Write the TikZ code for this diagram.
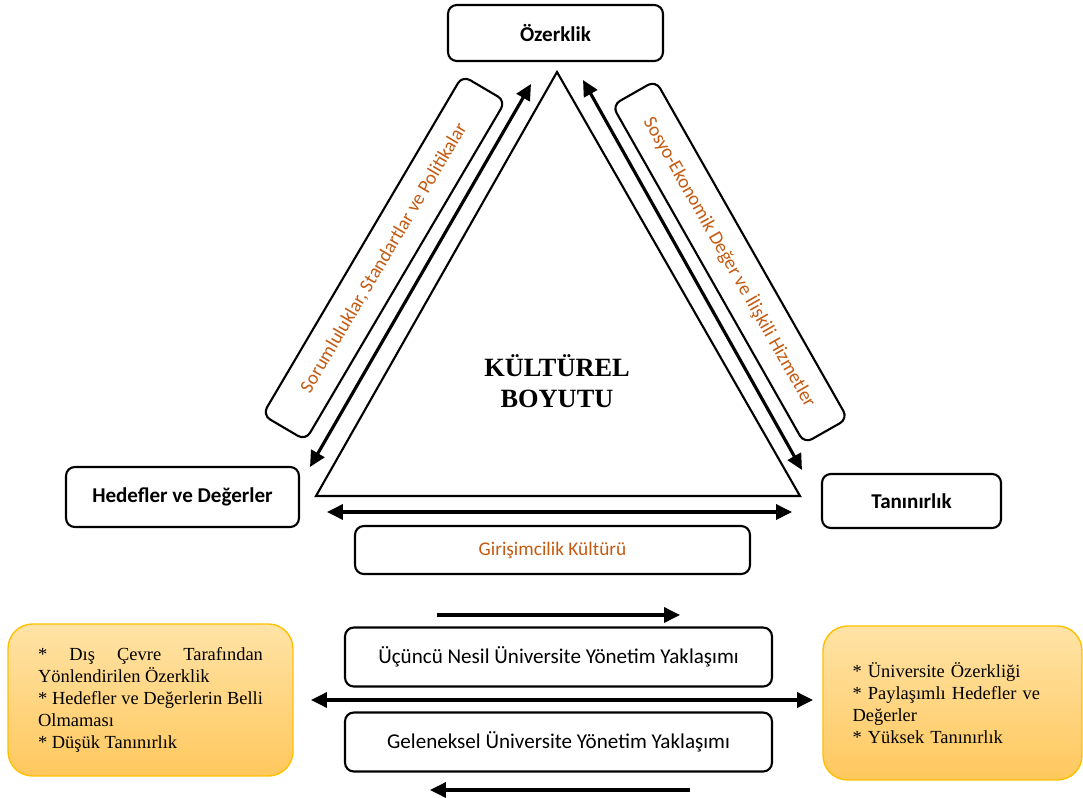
\documentclass[tikz,border=0pt]{standalone}
\usepackage{fontspec}
\setmainfont{Liberation Serif}
\setsansfont{Carlito}
\usetikzlibrary{arrows.meta}
\definecolor{turuncu}{HTML}{C55A11}
\definecolor{sariust}{HTML}{FFE3A6}
\definecolor{sarialt}{HTML}{FFC85E}
\definecolor{saricizgi}{HTML}{FFC000}
\begin{document}
\begin{tikzpicture}[x=0.02cm,y=-0.02cm,>={Triangle[length=9pt,width=8.5pt]},
    kutu/.style={draw,line width=1.2pt,rounded corners=5pt,inner sep=0pt,font=\sffamily\fontsize{12}{14}\selectfont},
    eksen/.style={kutu,text=turuncu,font=\sffamily\fontsize{11}{13}\selectfont},
    sari/.style={draw=saricizgi,line width=0.8pt,rounded corners=14pt,top color=sariust,bottom color=sarialt,
        font=\fontsize{10.5}{12.5}\selectfont,execute at begin node={\hyphenpenalty=10000 }},
    ok/.style={line width=1.8pt}]
    \useasboundingbox (0,0) rectangle (1083,798);
    % ana kavramlar
    \node[kutu,minimum width=4.3cm,minimum height=1.12cm,font=\sffamily\bfseries\fontsize{12}{14}\selectfont] (ozerklik) at (555.5,33) {Özerklik};
    \node[kutu,minimum width=4.66cm,minimum height=1.2cm,font=\sffamily\bfseries\fontsize{12}{14}\selectfont] (hedef) at (182.5,497) {Hedefler ve Değerler};
    \node[kutu,minimum width=3.58cm,minimum height=1.08cm,font=\sffamily\bfseries\fontsize{12}{14}\selectfont] (taninirlik) at (911.5,501) {Tanınırlık};
    % ucgen
    \coordinate (tepe) at (557,72);
    \coordinate (solalt) at (316,496);
    \coordinate (sagalt) at (800,496);
    \draw[line width=1.2pt,line join=miter] (tepe) -- (solalt) -- (sagalt) -- cycle;
    \node[font=\bfseries\fontsize{15}{18}\selectfont,align=center] (kultur) at (557,381) {KÜLTÜREL\\BOYUTU};
    % kenar oklari
    \coordinate (sol1) at (310,467);
    \coordinate (sol2) at (531,84);
    \coordinate (sag1) at (583,80);
    \coordinate (sag2) at (802,470);
    \coordinate (alt1) at (327,512);
    \coordinate (alt2) at (792,512);
    \draw[ok,<->] (sol1) -- (sol2);
    \draw[ok,<->] (sag1) -- (sag2);
    \draw[ok,<->] (alt1) -- (alt2);
    \node[eksen,rotate=59.5,minimum width=7.88cm,minimum height=1cm] (sorumluluk) at (384,258) {Sorumluluklar, Standartlar ve Politikalar};
    \node[eksen,rotate=-60.4,minimum width=7.78cm,minimum height=1cm] (sosyo) at (730,262) {Sosyo-Ekonomik Değer ve İlişkili Hizmetler};
    \node[eksen,minimum width=7.9cm,minimum height=0.96cm] (girisim) at (552.5,550) {Girişimcilik Kültürü};
    % yaklasimlar
    \node[kutu,minimum width=8.54cm,minimum height=1.18cm] (ucuncu) at (558.5,657) {Üçüncü Nesil Üniversite Yönetim Yaklaşımı};
    \node[kutu,minimum width=8.54cm,minimum height=1.18cm] (geleneksel) at (558.5,742) {Geleneksel Üniversite Yönetim Yaklaşımı};
    \node[sari,minimum width=5.7cm,minimum height=3.04cm,text width=128pt,align=justify] (eski) at (150.5,700)
        {* Dış Çevre Tarafından Yönlendirilen Özerklik\par * Hedefler ve Değerlerin Belli Olmaması\par * Düşük Tanınırlık};
    \node[sari,minimum width=5.18cm,minimum height=3.08cm,text width=4cm,align=left] (yeni) at (952.5,703)
        {* Üniversite Özerkliği\par * Paylaşımlı Hedefler ve\par Değerler\par * Yüksek Tanınırlık};
    \coordinate (ust1) at (437,615);
    \coordinate (ust2) at (680,615);
    \coordinate (dip1) at (690,790);
    \coordinate (dip2) at (430,790);
    \coordinate (orta1) at (311,700);
    \coordinate (orta2) at (813,700);
    \draw[ok,->] (ust1) -- (ust2);
    \draw[ok,->] (dip1) -- (dip2);
    \draw[ok,<->] (orta1) -- (orta2);
\end{tikzpicture}
\end{document}
